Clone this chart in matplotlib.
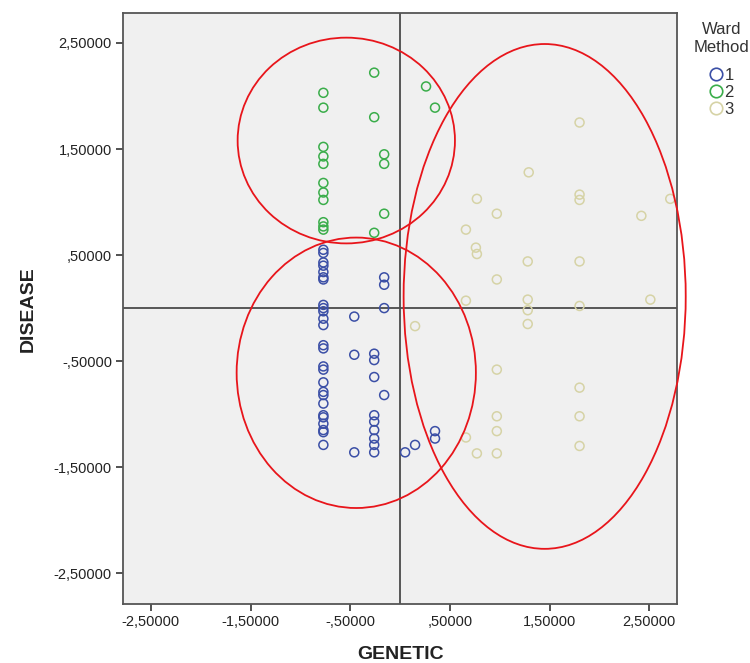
import matplotlib
matplotlib.use("Agg")
import matplotlib.pyplot as plt
from matplotlib.patches import Ellipse
from matplotlib.lines import Line2D

plt.rcParams['font.family'] = ['Liberation Sans', 'DejaVu Sans']

# ---- data ----
c1_x = [-0.77]*26 + [-0.46]*3 + [-0.26]*9 + [-0.16]*4 + [0.05, 0.15, 0.35, 0.35]
c1_y = [0.55, 0.52, 0.43, 0.40, 0.34, 0.29, 0.27, 0.03, 0.00, -0.03, -0.10, -0.16,
        -0.35, -0.38, -0.55, -0.58, -0.70, -0.79, -0.82, -0.90, -1.01, -1.03, -1.09,
        -1.15, -1.17, -1.29,
        -0.08, -0.44, -1.36,
        -0.43, -0.49, -0.65, -1.01, -1.07, -1.15, -1.23, -1.29, -1.36,
        0.29, 0.22, 0.00, -0.82,
        -1.36, -1.29, -1.16, -1.23]

c2_x = [-0.26, 0.26, 0.35, -0.77, -0.77, -0.26, -0.77, -0.77, -0.77, -0.16, -0.16,
        -0.77, -0.77, -0.77, -0.16, -0.77, -0.77, -0.77, -0.26]
c2_y = [2.22, 2.09, 1.89, 2.03, 1.89, 1.80, 1.52, 1.43, 1.36, 1.45, 1.36,
        1.18, 1.09, 1.02, 0.89, 0.81, 0.77, 0.74, 0.71]

c3_x = [1.80, 1.29, 0.77, 0.97, 1.80, 1.80, 2.71, 2.42, 0.66, 0.76, 0.77, 1.28, 1.80,
        0.97, 0.66, 1.28, 1.28, 1.80, 2.51, 0.15, 1.28,
        0.97, 1.80, 0.97, 1.80, 0.97, 0.66, 1.80, 0.77, 0.97]
c3_y = [1.75, 1.28, 1.03, 0.89, 1.07, 1.02, 1.03, 0.87, 0.74, 0.57, 0.51, 0.44, 0.44,
        0.27, 0.07, 0.08, -0.02, 0.02, 0.08, -0.17, -0.15,
        -0.58, -0.75, -1.02, -1.02, -1.16, -1.22, -1.30, -1.37, -1.37]

cluster_labels = ['1', '2', '3']
legend_title = 'Ward\nMethod'

# ellipses: center x, center y, width, height
ell_cx = [-0.54, -0.44, 1.45]
ell_cy = [1.58, -0.61, 0.11]
ell_w = [2.18, 2.40, 2.83]
ell_h = [1.94, 2.55, 4.76]

tick_vals = [-2.5, -1.5, -0.5, 0.5, 1.5, 2.5]
tick_labels = ['-2,50000', '-1,50000', '-,50000', ',50000', '1,50000', '2,50000']

# ---- plot ----
fig = plt.figure(figsize=(7.5, 6.63), dpi=100)
ax = fig.add_axes([0.164, 0.089, 0.739, 0.891])
ax.set_facecolor('#f0f0f0')

colors = ['#3b4fa6', '#3aad4a', '#d6d3a6']
for xs, ys, c in zip([c1_x, c2_x, c3_x], [c1_y, c2_y, c3_y], colors):
    ax.scatter(xs, ys, s=42, facecolors='none', edgecolors=c, linewidths=1.1, zorder=3)

ax.axvline(0, color='#4a4a4a', lw=1.3, zorder=2)
ax.axhline(0, color='#4a4a4a', lw=1.3, zorder=2)

for cx, cy, w, h in zip(ell_cx, ell_cy, ell_w, ell_h):
    e = Ellipse((cx, cy), w, h, fill=False, edgecolor='#e8151b', lw=1.3,
                zorder=4, clip_on=False)
    ax.add_patch(e)

ax.set_xlim(-2.78, 2.78)
ax.set_ylim(-2.79, 2.78)
ax.set_xticks(tick_vals)
ax.set_xticklabels(tick_labels)
ax.set_yticks(tick_vals)
ax.set_yticklabels(tick_labels)
ax.tick_params(axis='both', direction='out', length=5, width=1.2, color='#333333',
               labelsize=10.5, labelcolor='#222222', pad=3)
for sp in ax.spines.values():
    sp.set_color('#555555')
    sp.set_linewidth(1.3)

ax.set_xlabel('GENETIC', fontsize=14, fontweight='bold', color='#222222', labelpad=12)
ax.set_ylabel('DISEASE', fontsize=14, fontweight='bold', color='#222222', labelpad=12)

fig.text(0.962, 0.967, legend_title, ha='center', va='top', fontsize=12,
         color='#333333', multialignment='center', linespacing=1.25)

handles = [Line2D([], [], marker='o', ls='none', markerfacecolor='none',
                  markeredgecolor=c, markersize=9, markeredgewidth=1.2) for c in colors]
leg = fig.legend(handles, cluster_labels, loc='upper center',
                 bbox_to_anchor=(0.962, 0.908), frameon=False, fontsize=12,
                 handlelength=0.8, handletextpad=0.1,
                 labelspacing=0.12, borderaxespad=0)
for t in leg.get_texts():
    t.set_color('#333333')

fig.savefig('out.png', dpi=100)
